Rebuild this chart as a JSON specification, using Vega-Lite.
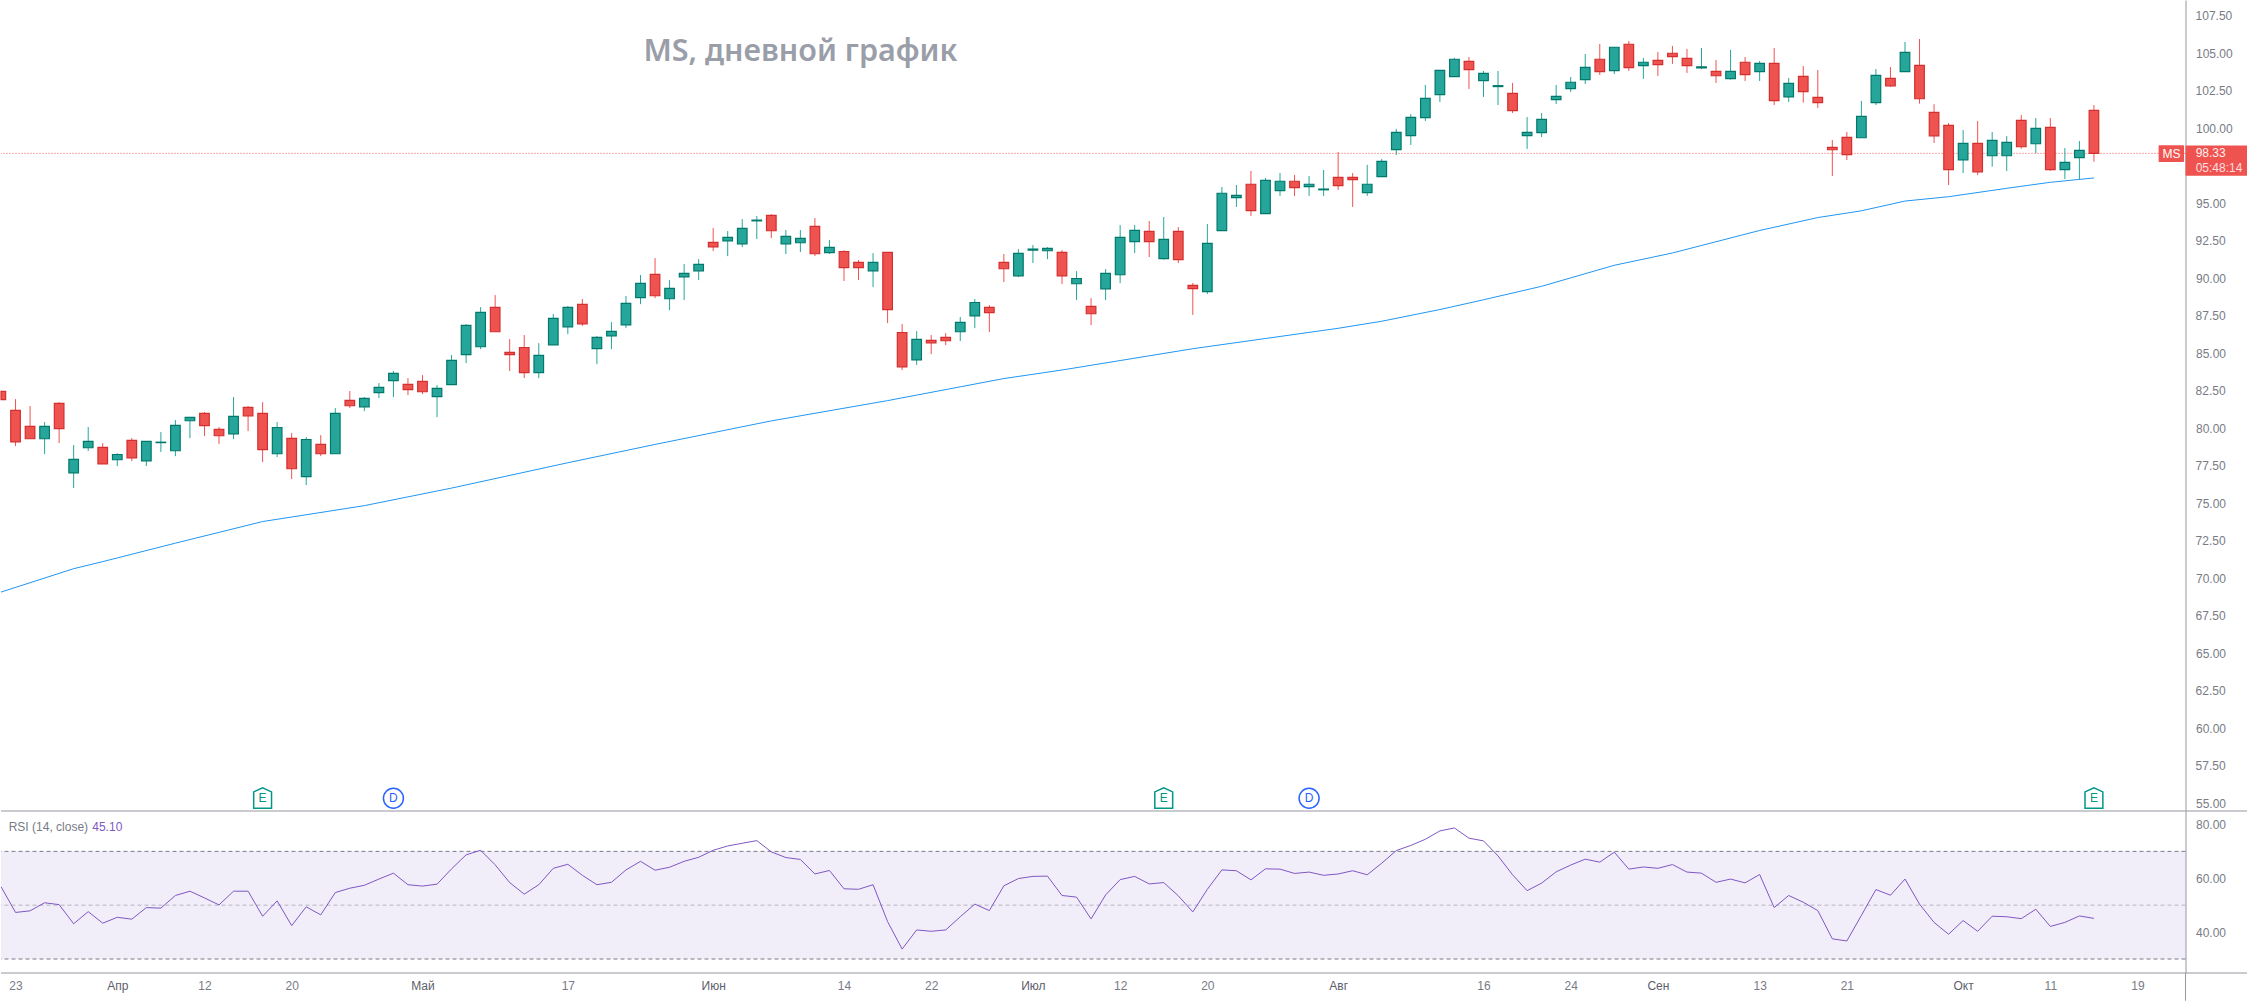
{
  "$schema": "https://vega.github.io/schema/vega-lite/v6.json",
  "description": "MS daily candles with a long moving average and RSI pane.",
  "padding": 0,
  "spacing": 0,
  "bounds": "flush",
  "background": "white",
  "config": {"view": {"stroke": null}, "text": {"font": "Liberation Sans"}, "axis": {"labelOverlap": false}},
  "datasets": {
    "bars": [
      {"k":0,"open":82.46,"high":82.5,"low":81.9,"close":81.91,"rsi":56.9},
      {"k":1,"open":81.2,"high":81.95,"low":78.82,"close":79.1,"rsi":47.3},
      {"k":2,"open":80.13,"high":81.49,"low":79.31,"close":79.31,"rsi":47.9},
      {"k":3,"open":79.31,"high":80.42,"low":78.29,"close":80.13,"rsi":50.9},
      {"k":4,"open":81.66,"high":81.75,"low":79.02,"close":79.98,"rsi":50.2},
      {"k":5,"open":77.04,"high":78.89,"low":76.02,"close":77.93,"rsi":43.1},
      {"k":6,"open":78.71,"high":80.09,"low":78.49,"close":79.13,"rsi":47.6},
      {"k":7,"open":78.73,"high":79.02,"low":77.64,"close":77.64,"rsi":43.3},
      {"k":8,"open":77.91,"high":78.35,"low":77.49,"close":78.26,"rsi":45.5},
      {"k":9,"open":79.2,"high":79.35,"low":77.82,"close":78.04,"rsi":44.8},
      {"k":10,"open":77.84,"high":79.13,"low":77.49,"close":79.13,"rsi":49.1},
      {"k":11,"open":79.05,"high":79.75,"low":78.42,"close":79.08,"rsi":48.9},
      {"k":12,"open":78.51,"high":80.55,"low":78.15,"close":80.2,"rsi":53.6},
      {"k":13,"open":80.51,"high":80.73,"low":79.35,"close":80.73,"rsi":55.2},
      {"k":14,"open":81.0,"high":81.09,"low":79.49,"close":80.18,"rsi":52.7},
      {"k":15,"open":79.93,"high":80.09,"low":78.95,"close":79.51,"rsi":50.1},
      {"k":16,"open":79.64,"high":82.09,"low":79.29,"close":80.8,"rsi":55.2},
      {"k":17,"open":81.4,"high":81.49,"low":79.82,"close":80.84,"rsi":55.2},
      {"k":18,"open":81.0,"high":81.75,"low":77.75,"close":78.58,"rsi":45.9},
      {"k":19,"open":78.31,"high":80.42,"low":78.09,"close":80.06,"rsi":51.6},
      {"k":20,"open":79.33,"high":79.69,"low":76.62,"close":77.31,"rsi":42.4},
      {"k":21,"open":76.78,"high":79.42,"low":76.22,"close":79.26,"rsi":49.4},
      {"k":22,"open":78.93,"high":79.55,"low":78.15,"close":78.31,"rsi":46.4},
      {"k":23,"open":78.31,"high":81.35,"low":78.31,"close":81.0,"rsi":54.7},
      {"k":24,"open":81.86,"high":82.49,"low":81.35,"close":81.51,"rsi":56.3},
      {"k":25,"open":81.44,"high":82.09,"low":81.15,"close":82.0,"rsi":57.4},
      {"k":26,"open":82.38,"high":83.02,"low":82.02,"close":82.73,"rsi":59.7},
      {"k":27,"open":83.18,"high":83.82,"low":82.09,"close":83.66,"rsi":61.9},
      {"k":28,"open":82.93,"high":83.35,"low":82.22,"close":82.58,"rsi":57.6},
      {"k":29,"open":83.13,"high":83.55,"low":82.29,"close":82.44,"rsi":57.1},
      {"k":30,"open":82.11,"high":82.89,"low":80.75,"close":82.66,"rsi":57.8},
      {"k":31,"open":82.91,"high":84.89,"low":82.91,"close":84.53,"rsi":63.5},
      {"k":32,"open":84.91,"high":86.95,"low":84.35,"close":86.86,"rsi":68.7},
      {"k":33,"open":85.44,"high":88.08,"low":85.28,"close":87.73,"rsi":70.4},
      {"k":34,"open":88.06,"high":88.88,"low":86.44,"close":86.44,"rsi":65.0},
      {"k":35,"open":85.06,"high":85.95,"low":83.82,"close":84.91,"rsi":58.4},
      {"k":36,"open":85.39,"high":86.22,"low":83.35,"close":83.71,"rsi":54.1},
      {"k":37,"open":83.71,"high":85.68,"low":83.35,"close":84.86,"rsi":57.6},
      {"k":38,"open":85.57,"high":87.62,"low":85.57,"close":87.33,"rsi":63.7},
      {"k":39,"open":86.77,"high":88.15,"low":86.28,"close":88.06,"rsi":65.2},
      {"k":40,"open":88.26,"high":88.62,"low":86.82,"close":86.97,"rsi":61.1},
      {"k":41,"open":85.31,"high":86.15,"low":84.28,"close":86.06,"rsi":57.6},
      {"k":42,"open":86.17,"high":87.08,"low":85.28,"close":86.46,"rsi":58.5},
      {"k":43,"open":86.9,"high":88.82,"low":86.68,"close":88.33,"rsi":63.1},
      {"k":44,"open":88.71,"high":90.22,"low":88.28,"close":89.66,"rsi":66.3},
      {"k":45,"open":90.26,"high":91.35,"low":88.68,"close":88.84,"rsi":63.0},
      {"k":46,"open":88.64,"high":89.88,"low":87.88,"close":89.33,"rsi":64.1},
      {"k":47,"open":90.1,"high":90.95,"low":88.55,"close":90.33,"rsi":66.3},
      {"k":48,"open":90.5,"high":91.28,"low":89.88,"close":90.93,"rsi":67.8},
      {"k":49,"open":92.39,"high":93.35,"low":91.82,"close":92.1,"rsi":70.4},
      {"k":50,"open":92.5,"high":93.15,"low":91.48,"close":92.73,"rsi":72.0},
      {"k":51,"open":92.3,"high":93.95,"low":92.08,"close":93.33,"rsi":73.0},
      {"k":52,"open":93.83,"high":94.15,"low":92.62,"close":93.88,"rsi":74.0},
      {"k":53,"open":94.19,"high":94.28,"low":92.68,"close":93.17,"rsi":69.8},
      {"k":54,"open":92.3,"high":93.22,"low":91.62,"close":92.79,"rsi":67.7},
      {"k":55,"open":92.37,"high":93.22,"low":91.75,"close":92.66,"rsi":67.0},
      {"k":56,"open":93.46,"high":94.02,"low":91.48,"close":91.64,"rsi":61.6},
      {"k":57,"open":91.71,"high":92.55,"low":91.62,"close":92.06,"rsi":62.9},
      {"k":58,"open":91.79,"high":91.88,"low":89.82,"close":90.71,"rsi":56.1},
      {"k":59,"open":91.06,"high":91.22,"low":89.88,"close":90.71,"rsi":55.9},
      {"k":60,"open":90.5,"high":91.68,"low":89.42,"close":91.06,"rsi":57.6},
      {"k":61,"open":91.73,"high":91.73,"low":87.02,"close":87.91,"rsi":43.9},
      {"k":62,"open":86.39,"high":86.95,"low":83.88,"close":84.1,"rsi":33.7},
      {"k":63,"open":84.57,"high":86.48,"low":84.22,"close":85.93,"rsi":40.8},
      {"k":64,"open":85.86,"high":86.22,"low":84.95,"close":85.7,"rsi":40.3},
      {"k":65,"open":86.06,"high":86.35,"low":85.55,"close":85.84,"rsi":40.8},
      {"k":66,"open":86.44,"high":87.42,"low":85.82,"close":87.06,"rsi":45.7},
      {"k":67,"open":87.5,"high":88.62,"low":86.68,"close":88.39,"rsi":50.4},
      {"k":68,"open":88.06,"high":88.22,"low":86.42,"close":87.71,"rsi":48.0},
      {"k":69,"open":91.06,"high":91.62,"low":89.75,"close":90.64,"rsi":57.2},
      {"k":70,"open":90.17,"high":91.95,"low":90.08,"close":91.66,"rsi":59.9},
      {"k":71,"open":91.88,"high":92.22,"low":91.02,"close":91.95,"rsi":60.7},
      {"k":72,"open":91.84,"high":92.08,"low":91.28,"close":92.0,"rsi":60.8},
      {"k":73,"open":91.73,"high":91.88,"low":89.62,"close":90.17,"rsi":53.6},
      {"k":74,"open":89.64,"high":90.48,"low":88.55,"close":89.99,"rsi":53.0},
      {"k":75,"open":88.13,"high":88.68,"low":86.88,"close":87.64,"rsi":44.9},
      {"k":76,"open":89.3,"high":90.62,"low":88.55,"close":90.33,"rsi":53.8},
      {"k":77,"open":90.24,"high":93.55,"low":89.68,"close":92.73,"rsi":59.5},
      {"k":78,"open":92.45,"high":93.56,"low":91.69,"close":93.2,"rsi":60.7},
      {"k":79,"open":93.13,"high":93.82,"low":91.42,"close":92.45,"rsi":57.9},
      {"k":80,"open":91.31,"high":94.09,"low":91.25,"close":92.6,"rsi":58.4},
      {"k":81,"open":93.13,"high":93.42,"low":91.02,"close":91.25,"rsi":53.5},
      {"k":82,"open":89.53,"high":89.69,"low":87.56,"close":89.31,"rsi":47.5},
      {"k":83,"open":89.11,"high":93.62,"low":88.96,"close":92.33,"rsi":55.9},
      {"k":84,"open":93.18,"high":96.09,"low":93.18,"close":95.67,"rsi":63.1},
      {"k":85,"open":95.38,"high":96.22,"low":94.76,"close":95.53,"rsi":62.8},
      {"k":86,"open":96.27,"high":97.16,"low":94.16,"close":94.51,"rsi":59.4},
      {"k":87,"open":94.31,"high":96.69,"low":94.31,"close":96.53,"rsi":63.5},
      {"k":88,"open":95.85,"high":97.02,"low":95.49,"close":96.47,"rsi":63.4},
      {"k":89,"open":96.47,"high":96.89,"low":95.49,"close":96.05,"rsi":61.8},
      {"k":90,"open":96.11,"high":96.82,"low":95.49,"close":96.27,"rsi":62.3},
      {"k":91,"open":95.9,"high":97.22,"low":95.49,"close":95.95,"rsi":61.1},
      {"k":92,"open":96.73,"high":98.42,"low":95.89,"close":96.18,"rsi":61.6},
      {"k":93,"open":96.73,"high":97.02,"low":94.76,"close":96.58,"rsi":62.8},
      {"k":94,"open":95.71,"high":97.56,"low":95.49,"close":96.27,"rsi":61.3},
      {"k":95,"open":96.78,"high":97.96,"low":96.78,"close":97.8,"rsi":65.6},
      {"k":96,"open":98.58,"high":99.96,"low":98.22,"close":99.73,"rsi":70.3},
      {"k":97,"open":99.51,"high":100.95,"low":98.89,"close":100.73,"rsi":72.2},
      {"k":98,"open":100.71,"high":102.89,"low":100.49,"close":102.0,"rsi":74.5},
      {"k":99,"open":102.24,"high":103.86,"low":101.75,"close":103.86,"rsi":77.6},
      {"k":100,"open":103.44,"high":104.69,"low":103.44,"close":104.6,"rsi":78.7},
      {"k":101,"open":104.46,"high":104.75,"low":102.62,"close":103.91,"rsi":74.9},
      {"k":102,"open":103.18,"high":103.82,"low":102.09,"close":103.66,"rsi":73.9},
      {"k":103,"open":102.78,"high":103.82,"low":101.55,"close":102.84,"rsi":68.3},
      {"k":104,"open":102.33,"high":103.02,"low":101.02,"close":101.18,"rsi":61.3},
      {"k":105,"open":99.51,"high":100.75,"low":98.62,"close":99.73,"rsi":55.4},
      {"k":106,"open":99.71,"high":101.02,"low":99.42,"close":100.6,"rsi":58.2},
      {"k":107,"open":101.91,"high":102.89,"low":101.62,"close":102.13,"rsi":62.4},
      {"k":108,"open":102.64,"high":103.42,"low":102.42,"close":103.07,"rsi":64.9},
      {"k":109,"open":103.24,"high":104.95,"low":102.95,"close":104.06,"rsi":67.1},
      {"k":110,"open":104.6,"high":105.62,"low":103.55,"close":103.78,"rsi":66.0},
      {"k":111,"open":103.84,"high":105.4,"low":103.62,"close":105.4,"rsi":69.7},
      {"k":112,"open":105.6,"high":105.82,"low":103.82,"close":104.04,"rsi":63.4},
      {"k":113,"open":104.18,"high":104.69,"low":103.29,"close":104.4,"rsi":64.2},
      {"k":114,"open":104.53,"high":105.09,"low":103.49,"close":104.24,"rsi":63.7},
      {"k":115,"open":105.0,"high":105.49,"low":104.29,"close":104.78,"rsi":65.1},
      {"k":116,"open":104.66,"high":105.29,"low":103.69,"close":104.18,"rsi":62.3},
      {"k":117,"open":104.02,"high":105.35,"low":103.95,"close":104.1,"rsi":61.9},
      {"k":118,"open":103.79,"high":104.55,"low":103.02,"close":103.5,"rsi":58.5},
      {"k":119,"open":103.31,"high":105.22,"low":103.24,"close":103.79,"rsi":59.7},
      {"k":120,"open":104.4,"high":104.75,"low":103.15,"close":103.57,"rsi":58.3},
      {"k":121,"open":103.77,"high":104.48,"low":103.15,"close":104.33,"rsi":61.4},
      {"k":122,"open":104.33,"high":105.35,"low":101.55,"close":101.84,"rsi":49.1},
      {"k":123,"open":102.1,"high":103.35,"low":101.75,"close":102.99,"rsi":53.6},
      {"k":124,"open":103.46,"high":104.15,"low":101.71,"close":102.44,"rsi":51.1},
      {"k":125,"open":102.06,"high":103.88,"low":101.35,"close":101.71,"rsi":48.0},
      {"k":126,"open":98.73,"high":99.22,"low":96.82,"close":98.57,"rsi":37.5},
      {"k":127,"open":99.39,"high":99.75,"low":97.88,"close":98.24,"rsi":36.7},
      {"k":128,"open":99.37,"high":101.82,"low":99.37,"close":100.79,"rsi":46.2},
      {"k":129,"open":101.71,"high":103.95,"low":101.55,"close":103.53,"rsi":55.8},
      {"k":130,"open":103.33,"high":104.08,"low":102.75,"close":102.82,"rsi":53.7},
      {"k":131,"open":103.77,"high":105.75,"low":103.77,"close":105.06,"rsi":59.7},
      {"k":132,"open":104.19,"high":105.95,"low":101.64,"close":101.97,"rsi":50.4},
      {"k":133,"open":101.06,"high":101.6,"low":99.02,"close":99.5,"rsi":43.6},
      {"k":134,"open":100.19,"high":100.35,"low":96.22,"close":97.24,"rsi":39.2},
      {"k":135,"open":97.9,"high":99.88,"low":97.02,"close":98.99,"rsi":44.3},
      {"k":136,"open":98.99,"high":100.48,"low":96.88,"close":97.1,"rsi":40.3},
      {"k":137,"open":98.17,"high":99.75,"low":97.44,"close":99.19,"rsi":45.9},
      {"k":138,"open":98.17,"high":99.48,"low":97.15,"close":99.06,"rsi":45.7},
      {"k":139,"open":100.53,"high":100.88,"low":98.64,"close":98.77,"rsi":45.0},
      {"k":140,"open":98.97,"high":100.68,"low":98.35,"close":100.0,"rsi":48.5},
      {"k":141,"open":100.06,"high":100.68,"low":97.17,"close":97.24,"rsi":42.1},
      {"k":142,"open":97.24,"high":98.68,"low":96.62,"close":97.73,"rsi":43.6},
      {"k":143,"open":98.04,"high":99.15,"low":96.62,"close":98.53,"rsi":46.0},
      {"k":144,"open":101.19,"high":101.55,"low":97.77,"close":98.33,"rsi":45.1}
    ],
    "ma": [
      {"k":0,"ma":69.09},{"k":5,"ma":70.65},{"k":7,"ma":71.12},{"k":12,"ma":72.35},{"k":18,"ma":73.79},
      {"k":25,"ma":74.85},{"k":31,"ma":76.02},{"k":39,"ma":77.71},{"k":45,"ma":78.93},{"k":53,"ma":80.5},
      {"k":61,"ma":81.85},{"k":66,"ma":82.77},{"k":69,"ma":83.32},{"k":73,"ma":83.89},{"k":77,"ma":84.52},
      {"k":82,"ma":85.31},{"k":87,"ma":85.99},{"k":92,"ma":86.67},{"k":95,"ma":87.14},{"k":99,"ma":87.92},
      {"k":102,"ma":88.57},{"k":106,"ma":89.47},{"k":111,"ma":90.87},{"k":115,"ma":91.69},{"k":121,"ma":93.19},
      {"k":125,"ma":94.05},{"k":128,"ma":94.5},{"k":131,"ma":95.15},{"k":134,"ma":95.44},{"k":138,"ma":96.0},
      {"k":141,"ma":96.4},{"k":144,"ma":96.69}
    ],
    "events": [
      {"k":18,"price":55.35,"kind":"E"},
      {"k":27,"price":55.35,"kind":"D"},
      {"k":80,"price":55.35,"kind":"E"},
      {"k":90,"price":55.35,"kind":"D"},
      {"k":144,"price":55.35,"kind":"E"}
    ],
    "halfTicks": [
      {"tick":57.5},{"tick":62.5},{"tick":67.5},{"tick":72.5},{"tick":77.5},{"tick":82.5},
      {"tick":87.5},{"tick":92.5},{"tick":97.5},{"tick":102.5},{"tick":107.5}
    ]
  },
  "vconcat": [
    {
      "width": 2184.5,
      "height": 811,
      "layer": [
        {
          "data": {"values": [{}]},
          "mark": {"type": "rule", "color": "#ef5350", "strokeWidth": 1, "strokeDash": [1, 2]},
          "encoding": {
            "y": {"datum": 98.33, "title": null}
          }
        },
        {
          "data": {"name": "ma"},
          "mark": {"type": "line", "color": "#2196f3", "strokeWidth": 1, "clip": true},
          "encoding": {
            "x": {"field": "k", "type": "quantitative", "scale": {"domain": [0, 150.3], "nice": false, "zero": false, "padding": 0}, "axis": null},
            "y": {
              "field": "ma",
              "type": "quantitative",
              "title": null,
              "scale": {"domain": [54.5, 108.55], "nice": false, "zero": false, "padding": 0},
              "axis": {
                "orient": "right",
                "title": null,
                "grid": false,
                "ticks": false,
                "values": [55, 60, 65, 70, 75, 80, 85, 90, 95, 100, 105],
                "format": ".2f",
                "labelFont": "Liberation Sans",
                "labelFontSize": 12,
                "labelColor": "#787b86",
                "labelPadding": 10,
                "labelOverlap": false,
                "labelBound": false,
                "labelFlush": false,
                "domainColor": "#9598a1",
                "domainWidth": 1
              }
            }
          }
        },
        {
          "data": {"name": "halfTicks"},
          "mark": {"type": "text", "fontSize": 12, "color": "#787b86", "align": "left", "baseline": "middle"},
          "encoding": {
            "x": {"datum": 150.99, "axis": null},
            "y": {"field": "tick", "type": "quantitative", "title": null},
            "text": {"field": "tick", "type": "quantitative", "format": ".2f"}
          }
        },
        {
          "data": {"name": "bars"},
          "transform": [{"filter": "datum.k > 0"}],
          "mark": {"type": "rule", "strokeWidth": 1, "clip": true},
          "encoding": {
            "x": {"field": "k", "type": "quantitative", "axis": null},
            "y": {"field": "low", "type": "quantitative", "title": null},
            "y2": {"field": "high"},
            "color": {"condition": {"test": "datum.close < datum.open", "value": "#ef5350"}, "value": "#26a69a"}
          }
        },
        {
          "data": {"name": "bars"},
          "transform": [{"filter": "datum.k > 0"}],
          "mark": {"type": "bar", "orient": "vertical", "size": 9.6, "strokeWidth": 1.2, "clip": true},
          "encoding": {
            "x": {"field": "k", "type": "quantitative", "scale": {"padding": 0}, "axis": null},
            "y": {"field": "open", "type": "quantitative", "title": null},
            "y2": {"field": "close"},
            "fill": {"condition": {"test": "datum.close < datum.open", "value": "#ef5350"}, "value": "#26a69a"},
            "stroke": {"condition": {"test": "datum.close < datum.open", "value": "#d32f2f"}, "value": "#00796b"}
          }
        },
        {
          "data": {"name": "bars"},
          "transform": [{"filter": "datum.k == 0"}],
          "mark": {"type": "rect", "fill": "#ef5350", "stroke": "#d32f2f", "strokeWidth": 1.2},
          "encoding": {
            "x": {"datum": 0, "axis": null},
            "x2": {"datum": 0.32},
            "y": {"field": "open", "type": "quantitative", "title": null},
            "y2": {"field": "close"}
          }
        },
        {
          "data": {"values": [{}]},
          "mark": {"type": "text", "text": "MS, дневной график", "font": "Noto Sans", "fontWeight": 600, "fontSize": 30.5, "color": "#9a9ea9", "align": "left", "baseline": "middle"},
          "encoding": {
            "x": {"datum": 44.2, "axis": null},
            "y": {"datum": 105.1, "title": null}
          }
        },
        {
          "data": {"values": [{}]},
          "mark": {"type": "rect", "color": "#ef5350", "cornerRadius": 1},
          "encoding": {
            "x": {"datum": 148.45, "axis": null},
            "x2": {"datum": 150.2},
            "y": {"datum": 98.87, "title": null},
            "y2": {"datum": 97.76}
          }
        },
        {
          "data": {"values": [{}]},
          "mark": {"type": "rect", "color": "#ef5350", "cornerRadius": 1},
          "encoding": {
            "x": {"datum": 150.3, "axis": null},
            "x2": {"datum": 154.63},
            "y": {"datum": 98.85, "title": null},
            "y2": {"datum": 96.84}
          }
        },
        {
          "data": {"values": [{}]},
          "mark": {"type": "text", "text": "MS", "fontSize": 12, "color": "white", "align": "center", "baseline": "middle"},
          "encoding": {
            "x": {"datum": 149.33, "axis": null},
            "y": {"datum": 98.3, "title": null}
          }
        },
        {
          "data": {"values": [{}]},
          "mark": {"type": "text", "text": "98.33", "fontSize": 12, "color": "white", "opacity": 0.9, "align": "left", "baseline": "middle"},
          "encoding": {
            "x": {"datum": 151, "axis": null},
            "y": {"datum": 98.36, "title": null}
          }
        },
        {
          "data": {"values": [{}]},
          "mark": {"type": "text", "text": "05:48:14", "fontSize": 12, "color": "white", "opacity": 0.8, "align": "left", "baseline": "middle"},
          "encoding": {
            "x": {"datum": 151, "axis": null},
            "y": {"datum": 97.37, "title": null}
          }
        },
        {
          "data": {"name": "events"},
          "transform": [{"filter": "datum.kind == 'E'"}],
          "mark": {"type": "point", "shape": "M-0.85,-0.6 L0,-1 L0.85,-0.6 L0.85,0.95 L-0.85,0.95 Z", "size": 441, "filled": false, "fill": "white", "fillOpacity": 1, "stroke": "#009688", "strokeWidth": 1.5, "opacity": 1},
          "encoding": {
            "x": {"field": "k", "type": "quantitative", "axis": null},
            "y": {"field": "price", "type": "quantitative", "title": null}
          }
        },
        {
          "data": {"name": "events"},
          "transform": [{"filter": "datum.kind == 'D'"}],
          "mark": {"type": "point", "shape": "circle", "size": 400, "filled": false, "fill": "white", "fillOpacity": 1, "stroke": "#2962ff", "strokeWidth": 1.5, "opacity": 1},
          "encoding": {
            "x": {"field": "k", "type": "quantitative", "axis": null},
            "y": {"field": "price", "type": "quantitative", "title": null}
          }
        },
        {
          "data": {"name": "events"},
          "mark": {"type": "text", "fontSize": 12, "align": "center", "baseline": "middle"},
          "encoding": {
            "x": {"field": "k", "type": "quantitative", "axis": null},
            "y": {"field": "price", "type": "quantitative", "title": null},
            "text": {"field": "kind"},
            "color": {"condition": {"test": "datum.kind == 'D'", "value": "#2962ff"}, "value": "#009688"}
          }
        },
        {
          "data": {"values": [{}]},
          "mark": {"type": "rule", "color": "#9598a1", "strokeWidth": 1},
          "encoding": {
            "x": {"datum": 0, "axis": null},
            "x2": {"datum": 154.63},
            "y": {"datum": 54.5, "title": null}
          }
        }
      ]
    },
    {
      "width": 2184.5,
      "height": 162,
      "layer": [
        {
          "data": {"values": [{}]},
          "mark": {"type": "rect", "color": "#7e57c2", "opacity": 0.1},
          "encoding": {
            "y": {
              "datum": 70,
              "title": null,
              "scale": {"domain": [24.8, 85], "nice": false, "zero": false},
              "axis": {
                "orient": "right",
                "title": null,
                "grid": false,
                "ticks": false,
                "values": [40, 60, 80],
                "format": ".2f",
                "labelFont": "Liberation Sans",
                "labelFontSize": 12,
                "labelColor": "#787b86",
                "labelPadding": 10,
                "labelOverlap": false,
                "labelBound": false,
                "labelFlush": false,
                "domainColor": "#9598a1",
                "domainWidth": 1
              }
            },
            "y2": {"datum": 30}
          }
        },
        {
          "data": {"values": [{"level": 70}, {"level": 30}]},
          "mark": {"type": "rule", "color": "#787b86", "strokeWidth": 1, "strokeDash": [4, 3]},
          "encoding": {"y": {"field": "level", "type": "quantitative", "title": null}}
        },
        {
          "data": {"values": [{"level": 50}]},
          "mark": {"type": "rule", "color": "#787b86", "opacity": 0.5, "strokeWidth": 1, "strokeDash": [4, 3]},
          "encoding": {"y": {"field": "level", "type": "quantitative", "title": null}}
        },
        {
          "data": {"name": "bars"},
          "mark": {"type": "line", "color": "#7e57c2", "strokeWidth": 1, "clip": true},
          "encoding": {
            "x": {
              "field": "k",
              "type": "quantitative",
              "title": null,
              "scale": {"domain": [0, 150.3], "nice": false, "zero": false, "padding": 0},
              "axis": {
                "title": null,
                "grid": false,
                "ticks": false,
                "domain": false,
                "values": [1, 8, 14, 20, 29, 39, 49, 58, 64, 71, 77, 83, 92, 102, 108, 114, 121, 127, 135, 141, 147],
                "labelExpr": "{'1':'23','8':'Апр','14':'12','20':'20','29':'Май','39':'17','49':'Июн','58':'14','64':'22','71':'Июл','77':'12','83':'20','92':'Авг','102':'16','108':'24','114':'Сен','121':'13','127':'21','135':'Окт','141':'11','147':'19'}[datum.value]",
                "labelFont": "Liberation Sans",
                "labelFontSize": 12,
                "labelColor": {"condition": {"test": "indexof([8, 29, 49, 71, 92, 114, 135], datum.value) >= 0", "value": "#5d606b"}, "value": "#787b86"},
                "labelPadding": 7,
                "labelOverlap": false,
                "labelBound": false,
                "labelFlush": false
              }
            },
            "y": {"field": "rsi", "type": "quantitative", "title": null}
          }
        },
        {
          "data": {"values": [{}]},
          "mark": {"type": "text", "text": "RSI (14, close)", "fontSize": 12, "color": "#787b86", "align": "left", "baseline": "middle"},
          "encoding": {
            "x": {"datum": 0.53, "title": null},
            "y": {"datum": 79.2, "title": null}
          }
        },
        {
          "data": {"values": [{}]},
          "mark": {"type": "text", "text": "45.10", "fontSize": 12, "color": "#7e57c2", "align": "left", "baseline": "middle"},
          "encoding": {
            "x": {"datum": 6.28, "title": null},
            "y": {"datum": 79.2, "title": null}
          }
        },
        {
          "data": {"values": [{}]},
          "mark": {"type": "rule", "color": "#9598a1", "strokeWidth": 1},
          "encoding": {
            "x": {"datum": 0, "title": null},
            "x2": {"datum": 154.63},
            "y": {"datum": 24.8, "title": null}
          }
        },
        {
          "data": {"values": [{}]},
          "mark": {"type": "rule", "color": "#9598a1", "strokeWidth": 1},
          "encoding": {
            "x": {"datum": 150.3, "title": null},
            "y": {"datum": 24.8, "title": null},
            "y2": {"datum": 14.5}
          }
        }
      ]
    }
  ]
}
